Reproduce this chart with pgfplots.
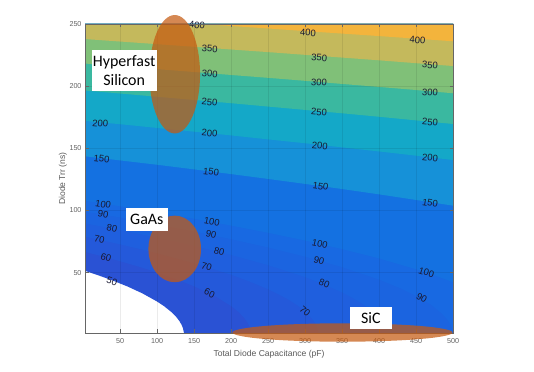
\documentclass[border=0pt]{standalone}
\usepackage{fontspec}
\setmainfont{Liberation Sans}
\newfontfamily\carlito{Carlito}
\usepackage{pgfplots}
\pgfplotsset{compat=1.18}
\definecolor{cA}{RGB}{42,82,212}
\definecolor{cB}{RGB}{36,89,218}
\definecolor{cC}{RGB}{31,95,222}
\definecolor{cD}{RGB}{27,100,224}
\definecolor{cE}{RGB}{24,105,226}
\definecolor{cF}{RGB}{20,113,225}
\definecolor{cG}{RGB}{22,145,216}
\definecolor{cH}{RGB}{20,168,200}
\definecolor{cI}{RGB}{58,184,160}
\definecolor{cJ}{RGB}{128,192,120}
\definecolor{cK}{RGB}{196,185,92}
\definecolor{cL}{RGB}{243,180,60}
\definecolor{labc}{RGB}{25,25,50}
\definecolor{ellc}{RGB}{197,90,17}
\tikzset{clab/.style={font=\fontsize{9.5}{10}\selectfont, text=labc, inner sep=0pt}}
\begin{document}
\begin{tikzpicture}
\useasboundingbox (0,0) rectangle (534bp,372bp);
\begin{axis}[
  at={(85bp,39bp)}, anchor=south west,
  scale only axis, width=368bp, height=309bp,
  xmin=2.5, xmax=500, ymin=1.5, ymax=250,
  xtick={50,100,...,500}, ytick={50,100,...,250},
  axis on top,
  grid=major, major grid style={black, opacity=0.08, line width=0.4bp},
  tick style={black!60, line width=0.4bp}, major tick length=3.5bp,
  axis line style={black!60, line width=0.5bp},
  ticklabel style={font=\fontsize{7.2}{8}\selectfont, text=black!62},
  xticklabel style={yshift=-1.5bp},
  /pgf/number format/assume math mode=true,
  xlabel={Total Diode Capacitance (pF)}, ylabel={Diode Trr (ns)},
  label style={font=\fontsize{8.6}{10}\selectfont, text=black!65},
  xlabel style={at={(axis description cs:0.5,-0.068)}, anchor=center},
  ylabel style={at={(axis description cs:-0.06,0.5)}, anchor=center},
  clip=false,
]
% f >= 50
\addplot[fill=cA, draw=none] coordinates {(2.5,51.5) (20,48.0) (40,43.7) (60,38.9) (80,33.4) (100,26.8) (110,22.8) (120,18.0) (126,14.3) (130,11.2) (133,8.2) (135,5.2) (136.3,1.5) (500,1.5) (500,250) (2.5,250)} -- cycle;
% f >= 60
\addplot[fill=cB, draw=none] coordinates {(2.5,66.7) (25,63.3) (50,59.2) (75,54.9) (100,50.2) (125,45.0) (150,39.1) (180,30.6) (200,23.2) (210,18.5) (218,13.5) (223,9.2) (226,5.0) (227.2,1.5) (500,1.5) (500,250) (2.5,250)} -- cycle;
% f >= 70
\addplot[fill=cC, draw=none] coordinates {(2.5,79.0) (50,72.8) (100,65.7) (150,57.7) (200,48.4) (225,42.9) (250,36.7) (265,32.4) (280,27.5) (290,23.6) (300,19.0) (310,12.7) (315,7.9) (317.5,3.7) (318.1,1.5) (500,1.5) (500,250) (2.5,250)} -- cycle;
% f >= 80
\addplot[fill=cD, draw=none] coordinates {(2.5,89.7) (50,84.3) (100,78.2) (150,71.6) (200,64.3) (250,56.1) (300,46.5) (325,40.8) (350,34.2) (365,29.5) (380,24.0) (395,16.7) (403,11.0) (407,6.4) (408.9,1.5) (500,1.5) (500,250) (2.5,250)} -- cycle;
% f >= 90
\addplot[fill=cE, draw=none] coordinates {(2.5,99.2) (50,94.4) (100,88.9) (150,83.2) (200,77.0) (250,70.3) (300,62.9) (350,54.5) (400,44.5) (430,37.2) (450,31.4) (470,24.4) (485,17.2) (493,11.8) (497,7.7) (499.5,3.1) (500,1.5) (500,250) (2.5,250)} -- cycle;
% f >= 100
\addplot[fill=cF, draw=none] coordinates {(2.5,107.9) (50,103.4) (100,98.5) (150,93.4) (200,87.9) (250,82.1) (300,75.9) (350,69.0) (400,61.5) (450,52.8) (475,47.9) (500,42.4) (500,250) (2.5,250)} -- cycle;
% f >= 150
\addplot[fill=cG, draw=none] coordinates {(2.5,143.6) (50,140.3) (100,136.8) (150,133.1) (200,129.3) (250,125.4) (300,121.4) (350,117.3) (400,113.0) (450,108.5) (500,103.9) (500,250) (2.5,250)} -- cycle;
% f >= 200
\addplot[fill=cH, draw=none] coordinates {(2.5,172.1) (50,169.4) (100,166.4) (150,163.4) (200,160.4) (250,157.2) (300,154.1) (350,150.8) (400,147.5) (450,144.1) (500,140.6) (500,250) (2.5,250)} -- cycle;
% f >= 250
\addplot[fill=cI, draw=none] coordinates {(2.5,196.5) (50,194.1) (100,191.5) (150,188.9) (200,186.3) (250,183.6) (300,180.9) (350,178.2) (400,175.4) (450,172.5) (500,169.6) (500,250) (2.5,250)} -- cycle;
% f >= 300
\addplot[fill=cJ, draw=none] coordinates {(2.5,218.2) (50,216.0) (100,213.7) (150,211.4) (200,209.0) (250,206.7) (300,204.3) (350,201.8) (400,199.4) (450,196.9) (500,194.3) (500,250) (2.5,250)} -- cycle;
% f >= 350
\addplot[fill=cK, draw=none] coordinates {(2.5,237.9) (50,235.9) (100,233.8) (150,231.7) (200,229.5) (250,227.4) (300,225.2) (350,223.0) (400,220.8) (450,218.5) (500,216.2) (500,250) (2.5,250)} -- cycle;
% f >= 400
\addplot[fill=cL, draw=none] coordinates {(158,250) (200,248.4) (250,246.4) (300,244.3) (350,242.3) (400,240.3) (450,238.2) (500,236.1) (500,250)} -- cycle;

% contour labels
\node[clab, rotate=-4] at (axis cs:154,249) {400};
\node[clab, rotate=-4] at (axis cs:304,243) {400};
\node[clab, rotate=-4] at (axis cs:452,237) {400};
\node[clab, rotate=-4] at (axis cs:171,230) {350};
\node[clab, rotate=-4] at (axis cs:319,223) {350};
\node[clab, rotate=-4] at (axis cs:469,217) {350};
\node[clab, rotate=-4.5] at (axis cs:171,210) {300};
\node[clab, rotate=-4.5] at (axis cs:319,203) {300};
\node[clab, rotate=-4.5] at (axis cs:469,195) {300};
\node[clab, rotate=-5] at (axis cs:171,187) {250};
\node[clab, rotate=-5] at (axis cs:319,179) {250};
\node[clab, rotate=-5] at (axis cs:469,171) {250};
\node[clab, rotate=-5] at (axis cs:23,170) {200};
\node[clab, rotate=-5.5] at (axis cs:171,162) {200};
\node[clab, rotate=-5.5] at (axis cs:320,152) {200};
\node[clab, rotate=-6] at (axis cs:469,142.5) {200};
\node[clab, rotate=-6.5] at (axis cs:25,141.6) {150};
\node[clab, rotate=-7] at (axis cs:173,131) {150};
\node[clab, rotate=-8] at (axis cs:321,119.6) {150};
\node[clab, rotate=-9] at (axis cs:469,106) {150};
\node[clab, rotate=-9] at (axis cs:27,105) {100};
\node[clab, rotate=-10] at (axis cs:174,91) {100};
\node[clab, rotate=-13] at (axis cs:320,73) {100};
\node[clab, rotate=-18] at (axis cs:464,50) {100};
\node[clab, rotate=-10] at (axis cs:27,97) {90};
\node[clab, rotate=-12] at (axis cs:173,80.6) {90};
\node[clab, rotate=-15.5] at (axis cs:319,59.7) {90};
\node[clab, rotate=-29] at (axis cs:457.7,29.6) {90};
\node[clab, rotate=-11] at (axis cs:39,85.5) {80};
\node[clab, rotate=-14] at (axis cs:184,67) {80};
\node[clab, rotate=-22] at (axis cs:326,41) {80};
\node[clab, rotate=-12] at (axis cs:22,77) {70};
\node[clab, rotate=-17] at (axis cs:167,55) {70};
\node[clab, rotate=-41] at (axis cs:300,19) {70};
\node[clab, rotate=-15] at (axis cs:31,62) {60};
\node[clab, rotate=-26] at (axis cs:171,33.6) {60};
\node[clab, rotate=-21] at (axis cs:39,43) {50};

\coordinate (eH) at (axis cs:123.8,209.6);
\coordinate (eG) at (axis cs:123.8,69.1);
\coordinate (eS) at (axis cs:350.6,1.9);
\coordinate (bH) at (axis cs:55.5,212.6);
\coordinate (bG) at (axis cs:86.0,92.8);
\coordinate (bS) at (axis cs:388.9,13.3);
\end{axis}
\fill[ellc, opacity=0.72] (eH) ellipse [x radius=25.3bp, y radius=59.2bp];
\fill[ellc, opacity=0.72] (eG) ellipse [x radius=26.3bp, y radius=33.3bp];
\fill[ellc, opacity=0.72] (eS) ellipse [x radius=110bp, y radius=9.2bp];
\node[fill=white, inner sep=0pt, minimum width=65bp, minimum height=41bp, align=center,
  font=\carlito\fontsize{16}{19.5}\selectfont] at (bH) {Hyperfast\\Silicon};
\node[fill=white, inner sep=0pt, minimum width=41.7bp, minimum height=22.4bp,
  font=\carlito\fontsize{16}{19.5}\selectfont] at (bG) {GaAs};
\node[fill=white, inner sep=0pt, minimum width=41.7bp, minimum height=22bp,
  font=\carlito\fontsize{16}{19.5}\selectfont] at (bS) {SiC};
\end{tikzpicture}
\end{document}
